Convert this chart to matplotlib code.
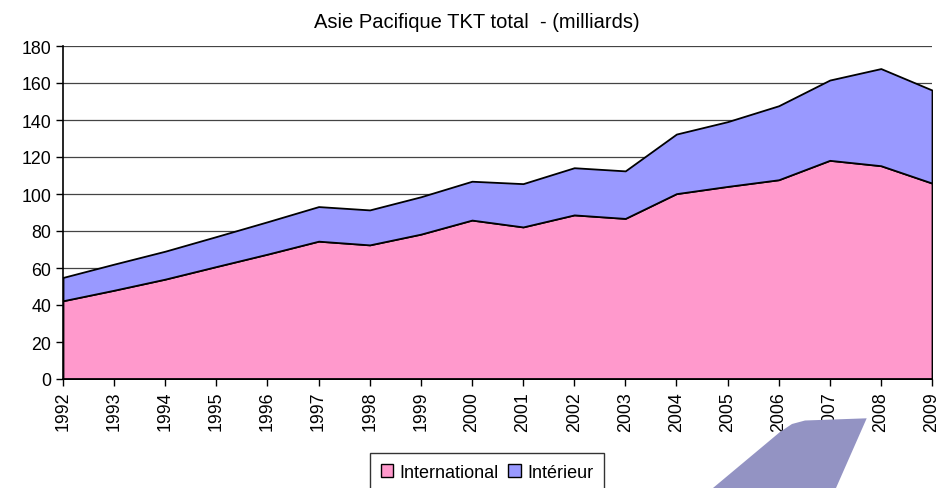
import matplotlib
matplotlib.use("Agg")
import matplotlib.pyplot as plt
from matplotlib.patches import Polygon, Patch

plt.rcParams['font.family'] = ['Liberation Sans', 'DejaVu Sans']

years = list(range(1992, 2010))
international = [42.3, 48.0, 54.0, 60.8, 67.5, 74.5, 72.5, 78.3, 85.9, 82.2,
                 88.7, 86.8, 100.2, 104.1, 107.7, 118.2, 115.3, 105.9]
interieur = [12.6, 14.1, 15.1, 16.2, 17.5, 18.7, 18.9, 20.2, 21.0, 23.4,
             25.5, 25.7, 32.2, 35.0, 40.0, 43.4, 52.5, 50.3]
labels = ["International", "Intérieur"]
colors = ["#FF99CC", "#9999FF"]
yticks = list(range(0, 181, 20))

W, H = 939, 489
fig = plt.figure(figsize=(W / 100, H / 100), dpi=100)
ax = fig.add_axes([63 / W, 1 - 380 / H, (932 - 63) / W, (380 - 47) / H])

ax.stackplot(years, international, interieur, colors=colors,
             edgecolor="black", linewidth=1.3, zorder=2)
ax.set_xlim(1992, 2009)
ax.set_ylim(0, 180)
ax.set_yticks(yticks)
ax.set_xticks(years)
ax.set_xticklabels([str(y) for y in years], rotation=90)
ax.tick_params(axis="both", labelsize=12.8, direction="out", length=5,
               width=1, color="black")
ax.yaxis.grid(True, color="#444444", linewidth=0.9)
ax.set_axisbelow(True)
for s in ["top", "right"]:
    ax.spines[s].set_visible(False)
for s in ["left", "bottom"]:
    ax.spines[s].set_color("black")
    ax.spines[s].set_linewidth(1.2)
    ax.spines[s].set_zorder(3)

fig.text(476.5 / W, 1 - 27.7 / H, "Asie Pacifique TKT total  - (milliards)",
         ha="center", va="baseline", fontsize=14.5)

handles = [Patch(facecolor=c, edgecolor="black", linewidth=1) for c in colors]
leg = fig.legend(handles, labels, loc="upper center",
                 bbox_to_anchor=(487 / W, 1 - 454 / H), ncol=2,
                 fontsize=13, frameon=True, fancybox=False,
                 edgecolor="black", handlelength=0.7, handleheight=0.7,
                 handletextpad=0.35, columnspacing=0.5, borderpad=0.6,
                 borderaxespad=0)
leg.get_frame().set_linewidth(1)

# decorative shape at bottom right
pts = [(713, 489), (780, 433), (792, 425), (805, 421.5), (866.7, 419.3), (836, 489)]
poly = Polygon([(x / W, 1 - y / H) for x, y in pts], closed=True,
               facecolor="#9393C3", edgecolor="none",
               transform=fig.transFigure, clip_on=False, zorder=5)
fig.patches.append(poly)

fig.savefig("out.png", dpi=100)
